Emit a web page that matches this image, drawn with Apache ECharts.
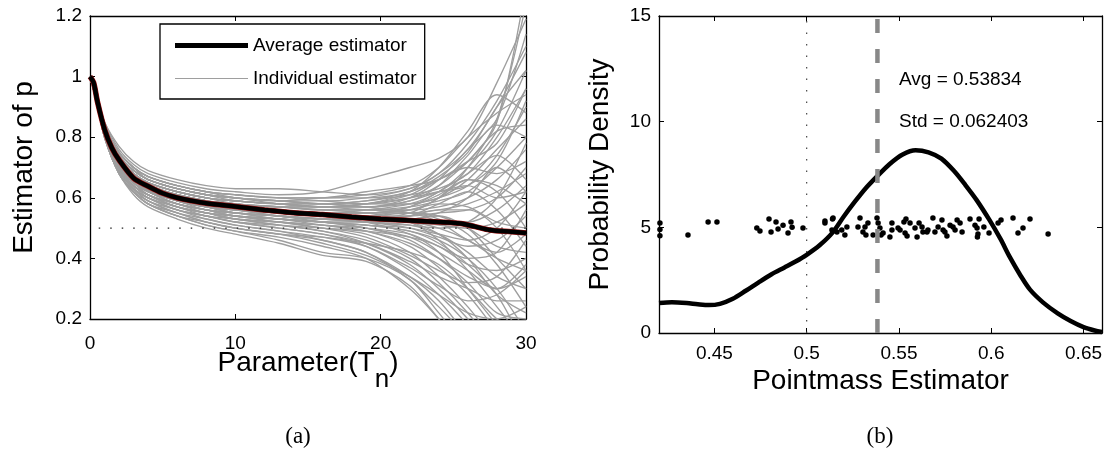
<!DOCTYPE html>
<html>
<head>
<meta charset="utf-8">
<script src="https://cdn.jsdelivr.net/npm/echarts@6/dist/echarts.min.js"></script>
<style>
html, body { margin: 0; padding: 0; background: #fff; }
#main { width: 1111px; height: 475px; }
</style>
</head>
<body>
<div id="main"></div>
<script>
// ---- panel (a) data ----
var paramX = [0, 0.5, 1, 2, 3, 4, 6, 8, 10, 13, 16, 19, 22, 24, 26, 28, 30];
var individual = [
  [1,.93,.85,.76,.71,.68,.65,.63,.62,.61,.62,.66,.70,.73,.80,.98,1.19],
  [1,.93,.85,.77,.72,.69,.66,.64,.63,.63,.62,.61,.63,.68,.78,.92,1.10],
  [1,.93,.84,.75,.70,.67,.64,.62,.61,.60,.60,.62,.64,.66,.72,.85,1.30],
  [1,.93,.84,.75,.70,.67,.64,.62,.60,.59,.60,.60,.62,.67,.75,.90,1.02],
  [1,.92,.84,.74,.69,.66,.63,.61,.60,.59,.58,.59,.61,.63,.68,.80,.96],
  [1,.92,.84,.74,.69,.66,.63,.61,.60,.58,.57,.58,.62,.70,.82,.94,.88],
  [1,.92,.84,.74,.69,.66,.63,.61,.59,.58,.57,.58,.60,.62,.64,.72,.92],
  [1,.92,.83,.73,.68,.65,.62,.60,.59,.58,.58,.57,.59,.64,.74,.84,.80],
  [1,.92,.83,.73,.68,.65,.62,.60,.59,.58,.57,.57,.58,.60,.66,.76,.86],
  [1,.92,.83,.73,.68,.65,.62,.60,.58,.57,.57,.58,.61,.66,.70,.68,.72],
  [1,.92,.83,.73,.68,.645,.61,.59,.58,.57,.56,.56,.57,.59,.62,.70,.80],
  [1,.92,.83,.72,.67,.64,.61,.59,.58,.57,.56,.56,.56,.57,.60,.66,.76],
  [1,.92,.83,.72,.67,.64,.61,.59,.58,.56,.55,.55,.57,.61,.66,.64,.58],
  [1,.92,.83,.72,.67,.64,.61,.59,.57,.56,.55,.55,.55,.56,.58,.62,.68],
  [1,.92,.83,.72,.67,.635,.60,.58,.57,.56,.55,.55,.56,.58,.57,.52,.50],
  [1,.92,.83,.72,.67,.635,.60,.58,.57,.56,.55,.54,.54,.55,.56,.60,.70],
  [1,.92,.83,.72,.67,.635,.60,.58,.57,.55,.54,.54,.55,.54,.50,.44,.42],
  [1,.92,.83,.72,.67,.63,.60,.58,.57,.55,.54,.54,.53,.52,.52,.56,.64],
  [1,.92,.82,.72,.66,.63,.60,.58,.56,.55,.54,.53,.53,.55,.60,.70,.62],
  [1,.92,.82,.71,.66,.63,.60,.58,.56,.55,.54,.53,.52,.50,.46,.40,.36],
  [1,.92,.82,.71,.66,.63,.59,.57,.56,.55,.54,.53,.52,.51,.50,.52,.58],
  [1,.92,.82,.71,.66,.63,.59,.57,.56,.54,.53,.53,.53,.54,.50,.40,.30],
  [1,.92,.82,.71,.66,.625,.59,.57,.56,.54,.53,.52,.51,.48,.42,.34,.30],
  [1,.92,.82,.71,.66,.625,.59,.57,.55,.54,.53,.52,.50,.47,.44,.46,.54],
  [1,.92,.82,.71,.66,.62,.59,.57,.55,.54,.53,.52,.51,.50,.52,.60,.78],
  [1,.92,.82,.71,.65,.62,.59,.56,.55,.54,.52,.51,.49,.46,.40,.30,.16],
  [1,.92,.82,.71,.65,.62,.58,.56,.55,.53,.52,.51,.49,.45,.38,.28,.10],
  [1,.92,.82,.70,.65,.62,.58,.56,.55,.53,.52,.50,.47,.42,.36,.30,.34],
  [1,.92,.82,.70,.65,.62,.58,.56,.54,.53,.52,.50,.46,.40,.32,.22,.20],
  [1,.91,.82,.70,.65,.61,.58,.56,.54,.53,.51,.49,.45,.40,.34,.30,.38],
  [1,.91,.81,.70,.64,.61,.58,.55,.54,.52,.51,.49,.44,.37,.28,.16,.05],
  [1,.91,.81,.70,.64,.61,.57,.55,.54,.52,.50,.48,.42,.34,.24,.12,0],
  [1,.91,.81,.70,.64,.61,.57,.55,.53,.52,.50,.47,.41,.36,.32,.34,.46],
  [1,.91,.81,.69,.64,.60,.57,.55,.53,.51,.49,.46,.40,.32,.22,.10,0],
  [1,.91,.81,.69,.63,.60,.57,.54,.53,.51,.49,.45,.38,.30,.20,.08,0],
  [1,.91,.81,.69,.63,.60,.56,.54,.52,.50,.48,.45,.39,.34,.30,.26,.26],
  [1,.91,.81,.69,.63,.60,.56,.54,.52,.50,.48,.44,.36,.28,.18,.06,0],
  [1,.91,.81,.69,.63,.59,.56,.53,.51,.49,.47,.44,.37,.31,.26,.28,.36],
  [1,.91,.81,.69,.63,.59,.55,.53,.51,.49,.46,.42,.34,.26,.14,0,0],
  [1,.91,.80,.68,.62,.59,.55,.52,.50,.48,.46,.42,.33,.24,.14,.04,0],
  [1,.91,.80,.68,.62,.58,.55,.52,.50,.48,.45,.41,.34,.28,.22,.20,.24],
  [1,.91,.80,.68,.62,.58,.54,.51,.49,.47,.44,.40,.30,.20,.08,0,0],
  [1,.91,.80,.68,.62,.58,.54,.51,.49,.46,.42,.40,.33,.22,.10,0,0],
  [1,.91,.80,.68,.61,.57,.53,.50,.48,.45,.41,.39,.31,.20,.08,0,0],
  [1,.93,.84,.75,.70,.67,.64,.62,.61,.60,.60,.61,.64,.70,.80,.88,.94],
  [1,.92,.84,.74,.69,.66,.63,.61,.60,.59,.59,.60,.63,.68,.76,.90,1.08],
  [1,.92,.83,.73,.68,.65,.62,.60,.59,.58,.58,.59,.62,.66,.72,.78,.96],
  [1,.92,.83,.72,.67,.64,.61,.59,.58,.57,.57,.57,.60,.66,.76,.86,1.14],
  [1,.92,.83,.72,.67,.63,.60,.58,.57,.56,.55,.56,.58,.62,.70,.82,1.02],
  [1,.92,.82,.71,.66,.63,.59,.57,.56,.55,.54,.54,.57,.62,.68,.74,.66],
  [1,.91,.82,.70,.65,.62,.58,.56,.55,.54,.53,.53,.55,.60,.66,.62,.50],
  [1,.91,.81,.70,.64,.61,.57,.55,.54,.53,.52,.52,.54,.58,.62,.56,.44],
  [1,.92,.83,.73,.68,.65,.62,.60,.59,.58,.57,.56,.55,.53,.48,.38,.24],
  [1,.92,.83,.72,.67,.64,.61,.59,.58,.57,.56,.55,.52,.46,.36,.24,.12],
  [1,.92,.84,.74,.69,.66,.63,.61,.60,.59,.58,.57,.55,.52,.46,.42,.48],
  [1,.93,.84,.75,.70,.67,.64,.62,.61,.60,.59,.58,.58,.60,.64,.74,.90],
  [1,.92,.82,.71,.66,.62,.59,.57,.55,.54,.53,.53,.54,.56,.56,.50,.36],
  [1,.91,.82,.70,.65,.61,.58,.56,.54,.53,.52,.51,.50,.48,.46,.50,.62],
  [1,.91,.81,.70,.64,.61,.57,.55,.53,.52,.51,.50,.48,.44,.40,.42,.56],
  [1,.92,.83,.73,.68,.64,.61,.59,.58,.56,.55,.55,.56,.60,.70,.86,1.24],
  [1,.92,.83,.72,.67,.64,.61,.59,.57,.56,.55,.54,.52,.48,.40,.28,.22],
  [1,.92,.82,.71,.66,.63,.60,.58,.56,.55,.54,.52,.48,.42,.30,.18,.06],
  [1,.91,.81,.69,.63,.60,.56,.54,.52,.51,.50,.49,.47,.44,.38,.36,.40],
  [1,.92,.83,.73,.68,.65,.62,.60,.59,.58,.57,.57,.59,.62,.64,.60,.62],
  [1,.93,.84,.75,.70,.66,.63,.61,.60,.59,.58,.58,.60,.64,.72,.82,.84],
  [1,.91,.80,.68,.62,.58,.54,.52,.50,.48,.47,.45,.42,.38,.30,.20,.14]
];
var avgX = [0, 0.25, 0.5, 1, 1.5, 2, 3, 4, 5, 6, 7, 8, 10, 12, 14, 16, 18, 20, 22, 24, 25.5, 26.5, 27.5, 29, 30];
var avgY = [1.0, 0.98, 0.92, 0.826, 0.765, 0.725, 0.665, 0.638, 0.615, 0.60, 0.59, 0.582, 0.571, 0.56, 0.551, 0.545, 0.537, 0.53, 0.525, 0.52, 0.515, 0.505, 0.494, 0.488, 0.484];
var refLevelA = 0.5;

// ---- panel (b) data ----
var densX = [0.42, 0.427, 0.435, 0.441, 0.447, 0.453, 0.46, 0.467, 0.474, 0.481, 0.488, 0.494, 0.5, 0.507, 0.514, 0.52, 0.526, 0.532, 0.538, 0.545, 0.552, 0.559, 0.566, 0.573, 0.58, 0.586, 0.592, 0.599, 0.605, 0.61, 0.616, 0.621, 0.628, 0.636, 0.643, 0.65, 0.656, 0.66];
var densY = [1.42, 1.46, 1.42, 1.36, 1.32, 1.38, 1.62, 2.0, 2.4, 2.78, 3.1, 3.38, 3.7, 4.15, 4.75, 5.5, 6.2, 6.85, 7.4, 8.0, 8.45, 8.65, 8.55, 8.25, 7.65, 7.0, 6.3, 5.35, 4.45, 3.6, 2.7, 2.05, 1.45, 0.93, 0.57, 0.28, 0.12, 0.05];
var ptsX = [0.4205, 0.4205, 0.4205, 0.4357, 0.4466, 0.4514, 0.473, 0.4747, 0.4796, 0.4807, 0.4834, 0.4845, 0.4872, 0.4899, 0.4915, 0.4921, 0.498, 0.5099, 0.5099, 0.514,
  0.5143, 0.5137, 0.5164, 0.519, 0.5207, 0.5218, 0.5289, 0.5278, 0.5305, 0.5316, 0.5321, 0.5332, 0.536, 0.5381, 0.5387, 0.5397, 0.5403, 0.5414, 0.5451, 0.5462,
  0.5462, 0.5495, 0.5506, 0.5527, 0.5533, 0.5538, 0.5544, 0.556, 0.5587, 0.5598, 0.5609, 0.5625, 0.563, 0.5652, 0.5657, 0.5684, 0.5695, 0.5712, 0.5733, 0.5739,
  0.5749, 0.576, 0.5777, 0.5793, 0.5804, 0.5815, 0.5831, 0.5842, 0.5885, 0.5912, 0.5923, 0.5925, 0.5934, 0.5928, 0.596, 0.5988, 0.6037, 0.6053, 0.6118, 0.6145,
  0.6172, 0.621, 0.6308];
var ptsY = [5.2, 4.9, 4.6, 4.64, 5.25, 5.25, 4.97, 4.83, 5.4, 4.78, 5.25, 4.92, 5.1, 4.73, 5.25, 5.0, 4.97, 5.2, 5.3, 5.4,
  5.44, 4.87, 4.78, 4.87, 4.64, 5.02, 5.44, 5.02, 4.78, 5.02, 4.64, 5.2, 4.64, 5.44, 5.2, 4.97, 4.64, 4.73, 4.54, 5.2,
  4.87, 4.97, 4.87, 5.25, 4.73, 5.4, 4.59, 5.2, 4.97, 4.54, 5.2, 5.02, 4.78, 4.78, 4.87, 5.44, 4.78, 5.02, 5.35, 4.87,
  4.78, 4.59, 5.1, 5.02, 4.87, 5.35, 5.2, 4.78, 5.4, 5.1, 4.97, 4.54, 5.4, 4.68, 5.02, 4.73, 5.2, 5.35, 5.44, 4.73,
  4.97, 5.4, 4.68];
var truthB = 0.5;
var avgB = 0.53834;
var stdB = 0.062403;
var xTicksB = [0.45, 0.5, 0.55, 0.6, 0.65];

var FONT = 'Liberation Sans, Arial, sans-serif';

function zip(xs, ys) {
  var out = [];
  for (var i = 0; i < xs.length; i++) out.push([xs[i], ys[i]]);
  return out;
}

// one axis in matlab box style (inward ticks, black line)
function boxAxis(opt) {
  var ax = {
    type: 'value',
    gridIndex: opt.grid,
    position: opt.position,
    min: opt.min,
    max: opt.max,
    interval: opt.interval,
    nameMoveOverlap: false,
    axisLine: { show: true, onZero: false, lineStyle: { color: '#000', width: 1.3 } },
    axisTick: { show: true, inside: true, length: 5, lineStyle: { color: '#000', width: 1 } },
    axisLabel: { show: !!opt.labels, color: '#000', fontSize: 19, fontFamily: FONT, margin: opt.margin || 8 },
    splitLine: { show: false }
  };
  if (opt.ticks) {
    ax.axisTick.customValues = opt.ticks;
    ax.axisLabel.customValues = opt.ticks;
  }
  return ax;
}

var series = [];
individual.forEach(function (row) {
  series.push({
    name: 'Individual estimator', type: 'line', xAxisIndex: 0, yAxisIndex: 0,
    smooth: 0.3, symbol: 'none', silent: true,
    lineStyle: { color: '#9e9e9e', width: 1.35 },
    itemStyle: { color: '#9e9e9e' },
    data: zip(paramX, row)
  });
});
series.push({
  name: 'ref', type: 'line', xAxisIndex: 0, yAxisIndex: 0, symbol: 'none', silent: true,
  lineStyle: { color: '#222', width: 1.2, type: [1.5, 10] },
  data: [[0.6, refLevelA], [30, refLevelA]]
});
series.push({
  name: 'under', type: 'line', xAxisIndex: 0, yAxisIndex: 0, smooth: 0.3, symbol: 'none', silent: true,
  lineStyle: { color: '#a01010', width: 5.5 },
  data: zip(avgX, avgY)
});
series.push({
  name: 'Average estimator', type: 'line', xAxisIndex: 0, yAxisIndex: 0, smooth: 0.3, symbol: 'none',
  lineStyle: { color: '#000', width: 4.5 },
  itemStyle: { color: '#000' },
  data: zip(avgX, avgY)
});

// panel b
series.push({
  name: 'truth', type: 'line', xAxisIndex: 2, yAxisIndex: 2, symbol: 'none', silent: true,
  lineStyle: { color: '#444', width: 1.2, type: [1.5, 10] },
  data: [[truthB, 0], [truthB, 15]]
});
series.push({
  name: 'density', type: 'line', xAxisIndex: 2, yAxisIndex: 2, smooth: 0.3, symbol: 'none',
  lineStyle: { color: '#000', width: 4.5 },
  data: zip(densX, densY)
});
series.push({
  name: 'points', type: 'scatter', xAxisIndex: 2, yAxisIndex: 2,
  symbolSize: 5.5, itemStyle: { color: '#000', opacity: 1 },
  data: zip(ptsX, ptsY)
});
series.push({
  name: 'avg', type: 'line', xAxisIndex: 2, yAxisIndex: 2, symbol: 'none', silent: true,
  lineStyle: { color: '#888', width: 4.5, type: [14, 16] },
  data: [[avgB, 0], [avgB, 15]]
});

var chart = echarts.init(document.getElementById('main'));
var option = {
  animation: false,
  backgroundColor: '#fff',
  grid: [
    { left: 90, top: 16, width: 436, height: 303 },
    { left: 659, top: 16, width: 443, height: 317 }
  ],
  legend: {
    data: [
      { name: 'Average estimator', icon: 'path://M0,0H100V7H0Z', itemStyle: { color: '#000' } },
      { name: 'Individual estimator', icon: 'path://M0,0H100V1.6H0Z', itemStyle: { color: '#9e9e9e' } }
    ],
    orient: 'vertical', left: 160, top: 24,
    padding: [12, 8, 11, 15],
    itemWidth: 73, itemHeight: 22, itemGap: 14,
    borderColor: '#000', borderWidth: 1.3, backgroundColor: '#fff',
    selectedMode: false,
    textStyle: { color: '#000', fontSize: 19, fontFamily: FONT }
  },
  xAxis: [
    Object.assign(boxAxis({ grid: 0, position: 'bottom', min: 0, max: 30, interval: 10, labels: true, margin: 15 }), {
      name: '{m|Parameter(T}{s|n}{m|)}', nameLocation: 'middle', nameGap: 30,
      nameTextStyle: {
        rich: {
          m: { fontSize: 28, fontFamily: FONT, color: '#000', lineHeight: 32, verticalAlign: 'top' },
          s: { fontSize: 26, fontFamily: FONT, color: '#000', lineHeight: 44, verticalAlign: 'bottom' }
        }
      }
    }),
    boxAxis({ grid: 0, position: 'top', min: 0, max: 30, interval: 10 }),
    Object.assign(boxAxis({ grid: 1, position: 'bottom', min: 0.42, max: 0.66, ticks: xTicksB, labels: true, margin: 11 }), {
      name: 'Pointmass Estimator', nameLocation: 'middle', nameGap: 32,
      nameTextStyle: { fontSize: 28, fontFamily: FONT, color: '#000', lineHeight: 32 }
    }),
    boxAxis({ grid: 1, position: 'top', min: 0.42, max: 0.66, ticks: xTicksB })
  ],
  yAxis: [
    Object.assign(boxAxis({ grid: 0, position: 'left', min: 0.2, max: 1.2, interval: 0.2, labels: true }), {
      name: 'Estimator of p', nameLocation: 'middle', nameGap: 50,
      nameTextStyle: { fontSize: 28, fontFamily: FONT, color: '#000', lineHeight: 32 }
    }),
    boxAxis({ grid: 0, position: 'right', min: 0.2, max: 1.2, interval: 0.2 }),
    Object.assign(boxAxis({ grid: 1, position: 'left', min: 0, max: 15, interval: 5, labels: true }), {
      name: 'Probability Density', nameLocation: 'middle', nameGap: 43,
      nameTextStyle: { fontSize: 28, fontFamily: FONT, color: '#000', lineHeight: 32 }
    }),
    boxAxis({ grid: 1, position: 'right', min: 0, max: 15, interval: 5 })
  ],
  series: series
};
chart.setOption(option);

// stats text placed at data coords, captions under each panel
var pAvg = chart.convertToPixel({ gridIndex: 1 }, [0.55, 12]);
var pStd = chart.convertToPixel({ gridIndex: 1 }, [0.55, 10]);
chart.setOption({
  graphic: [
    { type: 'text', x: pAvg[0], y: pAvg[1], style: { text: 'Avg = ' + avgB, fill: '#000', font: '19px ' + FONT, verticalAlign: 'middle' } },
    { type: 'text', x: pStd[0], y: pStd[1], style: { text: 'Std = ' + stdB, fill: '#000', font: '19px ' + FONT, verticalAlign: 'middle' } },
    { type: 'text', x: 298, y: 437, style: { text: '(a)', fill: '#000', font: '23px Liberation Serif, serif', align: 'center', verticalAlign: 'middle' } },
    { type: 'text', x: 880, y: 437, style: { text: '(b)', fill: '#000', font: '23px Liberation Serif, serif', align: 'center', verticalAlign: 'middle' } }
  ]
});
</script>
</body>
</html>
